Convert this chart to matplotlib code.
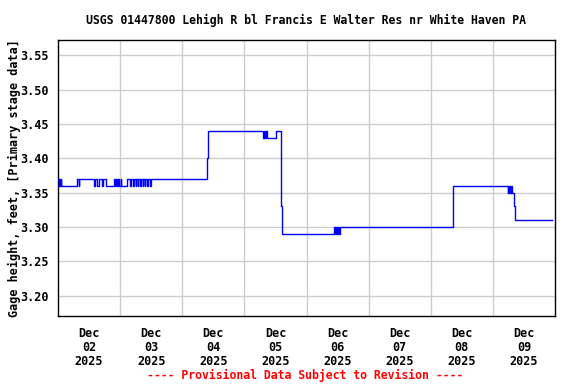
import matplotlib
matplotlib.use("Agg")
import matplotlib.pyplot as plt
import pandas as pd

title = "USGS 01447800 Lehigh R bl Francis E Walter Res nr White Haven PA"
ylabel = "Gage height, feet, [Primary stage data]"
footer = "---- Provisional Data Subject to Revision ----"

# change points of the step series (time, gage height)
times = [
    "2025-12-02 00:00", "2025-12-02 00:15", "2025-12-02 00:30", "2025-12-02 00:45",
    "2025-12-02 01:00", "2025-12-02 01:15", "2025-12-02 07:30", "2025-12-02 08:00",
    "2025-12-02 08:15", "2025-12-02 13:45", "2025-12-02 14:15", "2025-12-02 15:15",
    "2025-12-02 15:45", "2025-12-02 17:00", "2025-12-02 17:30", "2025-12-02 18:30",
    "2025-12-02 21:45", "2025-12-02 22:00", "2025-12-02 22:30", "2025-12-02 22:45",
    "2025-12-02 23:15", "2025-12-02 23:30", "2025-12-03 00:15", "2025-12-03 00:30",
    "2025-12-03 02:45", "2025-12-03 04:00", "2025-12-03 04:15", "2025-12-03 05:00",
    "2025-12-03 05:15", "2025-12-03 06:00", "2025-12-03 06:15", "2025-12-03 06:45",
    "2025-12-03 07:00", "2025-12-03 07:45", "2025-12-03 08:00", "2025-12-03 08:45",
    "2025-12-03 09:00", "2025-12-03 09:30", "2025-12-03 09:45", "2025-12-03 10:30",
    "2025-12-03 10:45", "2025-12-03 11:30", "2025-12-03 11:45",
    "2025-12-04 09:30", "2025-12-04 10:00",
    "2025-12-05 07:15", "2025-12-05 07:30", "2025-12-05 07:45", "2025-12-05 08:00",
    "2025-12-05 08:15", "2025-12-05 08:30", "2025-12-05 08:45", "2025-12-05 12:15",
    "2025-12-05 14:15", "2025-12-05 14:30",
    "2025-12-06 10:30", "2025-12-06 11:00", "2025-12-06 11:15", "2025-12-06 11:45",
    "2025-12-06 12:00", "2025-12-06 12:30", "2025-12-06 12:45",
    "2025-12-08 08:30", "2025-12-08 08:45",
    "2025-12-09 05:45", "2025-12-09 06:00", "2025-12-09 06:15", "2025-12-09 06:30",
    "2025-12-09 06:45", "2025-12-09 07:00", "2025-12-09 07:15", "2025-12-09 08:15",
    "2025-12-09 08:30", "2025-12-09 22:45",
]
values = [
    3.37, 3.36, 3.37, 3.36,
    3.37, 3.36, 3.37, 3.36,
    3.37, 3.36, 3.37, 3.36,
    3.37, 3.36, 3.37, 3.36,
    3.37, 3.36, 3.37, 3.36,
    3.37, 3.36, 3.37, 3.36,
    3.37, 3.36, 3.37, 3.36,
    3.37, 3.36, 3.37, 3.36,
    3.37, 3.36, 3.37, 3.36,
    3.37, 3.36, 3.37, 3.36,
    3.37, 3.36, 3.37,
    3.40, 3.44,
    3.43, 3.44, 3.43, 3.44,
    3.43, 3.44, 3.43, 3.44,
    3.33, 3.29,
    3.30, 3.29, 3.30, 3.29,
    3.30, 3.29, 3.30,
    3.33, 3.36,
    3.35, 3.36, 3.35, 3.36,
    3.35, 3.36, 3.35, 3.33,
    3.31, 3.31,
]

day_labels = ["Dec\n02\n2025", "Dec\n03\n2025", "Dec\n04\n2025", "Dec\n05\n2025",
              "Dec\n06\n2025", "Dec\n07\n2025", "Dec\n08\n2025", "Dec\n09\n2025"]
yticks = [3.20, 3.25, 3.30, 3.35, 3.40, 3.45, 3.50, 3.55]

FONT = ["DejaVu Sans Mono"]
plt.rcParams["font.family"] = FONT
plt.rcParams["font.weight"] = "bold"

fig = plt.figure(figsize=(5.76, 3.84), dpi=100)
ax = fig.add_axes([58/576, 1-316/384, (555-58)/576, (316-40)/384])

t = pd.to_datetime(times)
ax.plot(t, values, drawstyle="steps-post", color="#0000ff", lw=1.0, zorder=3)

start = pd.Timestamp("2025-12-02 00:00")
end = pd.Timestamp("2025-12-10 00:00")
ax.set_xlim(start, end)
ax.set_ylim(3.1705, 3.5725)

noons = [start + pd.Timedelta(hours=12) + pd.Timedelta(days=i) for i in range(len(day_labels))]
mids = [start + pd.Timedelta(days=i) for i in range(1, 8)]
ax.set_xticks(noons)
ax.set_xticklabels(day_labels, fontsize=8.5, fontweight="bold", linespacing=1.1)
ax.set_xticks(mids, minor=True)
ax.tick_params(axis="x", which="both", length=0, pad=8)
ax.grid(True, axis="x", which="minor", color="#cccccc", lw=1)

ax.set_yticks(yticks)
ax.set_yticklabels([f"{v:.2f}" for v in yticks], fontsize=8.5, fontweight="bold")
ax.tick_params(axis="y", length=0, pad=7)
ax.grid(True, axis="y", which="major", color="#cccccc", lw=1)
ax.set_axisbelow(True)

for s in ax.spines.values():
    s.set_color("black")
    s.set_linewidth(1)

fig.text(306/576, 1-20/384, title, ha="center", va="center",
         fontsize=8.3, fontweight="bold")
fig.text(14/576, 1-178/384, ylabel, rotation=90, ha="center", va="center",
         fontsize=8.5, fontweight="bold")
fig.text(305/576, 1-375/384, footer, ha="center", va="center", color="#ff0000",
         fontsize=8.3, fontweight="bold")

fig.savefig("out.png", dpi=100)
